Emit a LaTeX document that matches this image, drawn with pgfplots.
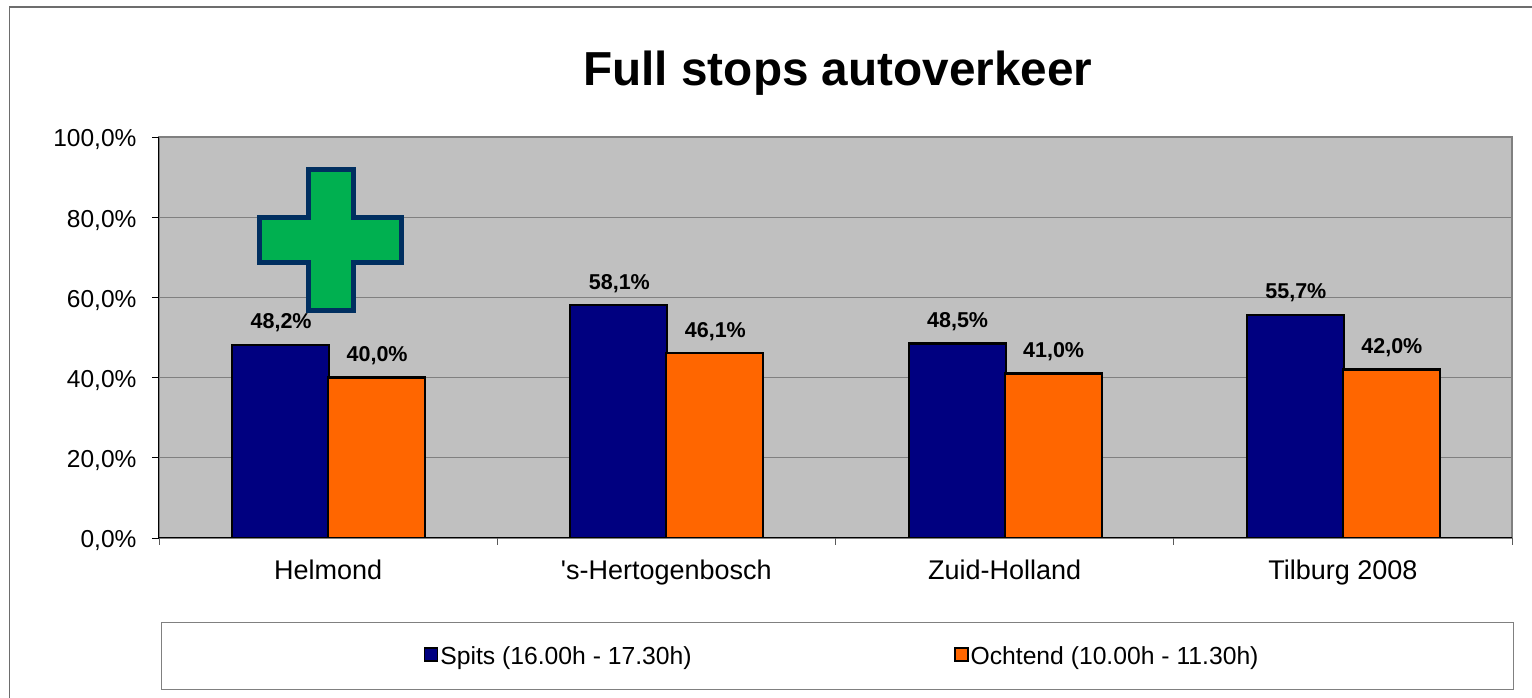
\documentclass[border=0pt]{standalone}
\usepackage{pgfplots}
\usepackage{fontspec}
\setmainfont{Liberation Sans}
\newfontfamily\catfont{Liberation Sans}
\pgfplotsset{compat=1.18}
\definecolor{bluebar}{HTML}{000080}
\definecolor{orangebar}{HTML}{FF6600}
\definecolor{panel}{HTML}{C0C0C0}
\definecolor{gridc}{HTML}{808080}
\definecolor{crossfill}{HTML}{00B050}
\definecolor{crossline}{HTML}{002F60}
\begin{document}
\begin{tikzpicture}[x=1pt,y=1pt]
\useasboundingbox (0,0) rectangle (1532,698);
\fill[white] (0,0) rectangle (1532,698);
\draw[gridc!85!black,line width=1.4pt] (9.5,-2) -- (9.5,691) -- (1534,691);
\begin{axis}[
  at={(159pt,160pt)}, anchor=south west,
  scale only axis, width=1353pt, height=401pt,
  xmin=-0.5, xmax=3.5, ymin=0, ymax=100,
  ybar=0pt, bar width=97pt,
  axis x line*=bottom, axis y line*=left,
  axis line style={-,black,line width=1pt},
  axis background/.style={fill=panel,draw=gridc,line width=1.8pt},
  xtick={0,1,2,3},
  xticklabels={Helmond,'s-Hertogenbosch,Zuid-Holland,Tilburg 2008},
  minor xtick={-0.5,0.5,1.5,2.5,3.5},
  major x tick style={draw=none},
  minor x tick style={draw=gridc!70!black,line width=0.8pt},
  minor tick length=7pt,
  xticklabel style={font=\catfont\fontsize{27}{30}\selectfont, yshift=-11pt},
  ytick={0,20,40,60,80,100},
  yticklabel={\pgfmathprintnumber[assume math mode=true,fixed,fixed zerofill,precision=1,use comma]{\tick}\%},
  yticklabel style={font=\fontsize{24.5}{28}\selectfont, xshift=-12pt, yshift=-3pt},
  y tick style={black,line width=0.8pt},
  major tick length=7pt,
  tick align=outside, tick pos=lower,
  ymajorgrids, grid style={gridc,line width=0.9pt},
  title={Full stops autoverkeer},
  title style={font=\fontsize{47.7}{54}\selectfont\bfseries, at={(axis description cs:0.5018,1.1447)}, anchor=center},
  nodes near coords={\pgfmathprintnumber[assume math mode=true,fixed,fixed zerofill,precision=1,use comma]{\pgfplotspointmeta}\%},
  every node near coord/.append style={font=\fontsize{21.5}{24}\selectfont\bfseries, black, anchor=south, yshift=8pt, xshift=0.5pt},
  legend columns=2,
  legend style={at={(axis description cs:0.5015,-0.2095)}, anchor=north,
    draw=gridc, line width=1pt, fill=white,
    inner xsep=253pt, inner ysep=22pt,
    font=\fontsize{24.7}{28}\selectfont,
    /tikz/column 2/.style={column sep=251pt}},
  legend image code/.code={\path (-9pt,0pt); \draw[#1,line width=1.6pt] (0pt,-5pt) rectangle (13pt,8pt);},
]
\addplot[draw=black,fill=bluebar,line width=2.2pt,bar shift=-47.5pt] coordinates {(0,48.2) (1,58.1) (2,48.5) (3,55.7)};
\addplot[draw=black,fill=orangebar,line width=2.2pt,bar shift=48.5pt] coordinates {(0,40.0) (1,46.1) (2,41.0) (3,42.0)};
\legend{Spits (16.00h - 17.30h),Ochtend (10.00h - 11.30h)}
\end{axis}
\draw[crossline,fill=crossfill,line width=5pt,miter limit=10]
  (308.5,528.5) -- (353.5,528.5) -- (353.5,480.5) -- (401.5,480.5) -- (401.5,435.5)
  -- (353.5,435.5) -- (353.5,387.5) -- (308.5,387.5) -- (308.5,435.5) -- (259.5,435.5)
  -- (259.5,480.5) -- (308.5,480.5) -- cycle;
\end{tikzpicture}
\end{document}
